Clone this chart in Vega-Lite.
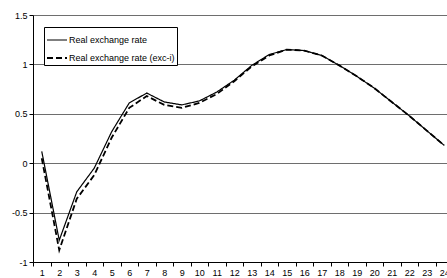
{
  "$schema": "https://vega.github.io/schema/vega-lite/v6.json",
  "autosize": "none",
  "width": 420,
  "height": 247,
  "padding": {"left": 33, "top": 15, "right": 0, "bottom": 16},
  "config": {
    "font": "Liberation Sans",
    "view": {"stroke": null},
    "axis": {"labelFont": "Liberation Sans", "labelFontSize": 9, "labelColor": "#000", "domainColor": "#000", "tickColor": "#000", "tickSize": 4, "titleFontSize": 9}
  },
  "data": {"values": [
    {"t":1,"s":"Real exchange rate","v":0.12},
    {"t":2,"s":"Real exchange rate","v":-0.78},
    {"t":3,"s":"Real exchange rate","v":-0.29},
    {"t":4,"s":"Real exchange rate","v":-0.05},
    {"t":5,"s":"Real exchange rate","v":0.32},
    {"t":6,"s":"Real exchange rate","v":0.61},
    {"t":7,"s":"Real exchange rate","v":0.71},
    {"t":8,"s":"Real exchange rate","v":0.62},
    {"t":9,"s":"Real exchange rate","v":0.59},
    {"t":10,"s":"Real exchange rate","v":0.63},
    {"t":11,"s":"Real exchange rate","v":0.72},
    {"t":12,"s":"Real exchange rate","v":0.84},
    {"t":13,"s":"Real exchange rate","v":0.99},
    {"t":14,"s":"Real exchange rate","v":1.10},
    {"t":15,"s":"Real exchange rate","v":1.15},
    {"t":16,"s":"Real exchange rate","v":1.14},
    {"t":17,"s":"Real exchange rate","v":1.09},
    {"t":18,"s":"Real exchange rate","v":0.99},
    {"t":19,"s":"Real exchange rate","v":0.88},
    {"t":20,"s":"Real exchange rate","v":0.76},
    {"t":21,"s":"Real exchange rate","v":0.62},
    {"t":22,"s":"Real exchange rate","v":0.48},
    {"t":23,"s":"Real exchange rate","v":0.33},
    {"t":24,"s":"Real exchange rate","v":0.18},
    {"t":1,"s":"Real exchange rate (exc-i)","v":0.05},
    {"t":2,"s":"Real exchange rate (exc-i)","v":-0.88},
    {"t":3,"s":"Real exchange rate (exc-i)","v":-0.36},
    {"t":4,"s":"Real exchange rate (exc-i)","v":-0.12},
    {"t":5,"s":"Real exchange rate (exc-i)","v":0.26},
    {"t":6,"s":"Real exchange rate (exc-i)","v":0.56},
    {"t":7,"s":"Real exchange rate (exc-i)","v":0.68},
    {"t":8,"s":"Real exchange rate (exc-i)","v":0.59},
    {"t":9,"s":"Real exchange rate (exc-i)","v":0.56},
    {"t":10,"s":"Real exchange rate (exc-i)","v":0.61},
    {"t":11,"s":"Real exchange rate (exc-i)","v":0.70},
    {"t":12,"s":"Real exchange rate (exc-i)","v":0.83},
    {"t":13,"s":"Real exchange rate (exc-i)","v":0.98},
    {"t":14,"s":"Real exchange rate (exc-i)","v":1.09},
    {"t":15,"s":"Real exchange rate (exc-i)","v":1.15},
    {"t":16,"s":"Real exchange rate (exc-i)","v":1.14},
    {"t":17,"s":"Real exchange rate (exc-i)","v":1.09},
    {"t":18,"s":"Real exchange rate (exc-i)","v":0.99},
    {"t":19,"s":"Real exchange rate (exc-i)","v":0.88},
    {"t":20,"s":"Real exchange rate (exc-i)","v":0.76},
    {"t":21,"s":"Real exchange rate (exc-i)","v":0.62},
    {"t":22,"s":"Real exchange rate (exc-i)","v":0.48},
    {"t":23,"s":"Real exchange rate (exc-i)","v":0.33},
    {"t":24,"s":"Real exchange rate (exc-i)","v":0.18}
  ]},
  "mark": {"type": "line", "color": "#000"},
  "encoding": {
    "x": {
      "field": "t", "type": "ordinal",
      "scale": {"type": "band", "paddingInner": 0, "paddingOuter": 0},
      "bandPosition": 0.5,
      "axis": {"title": null, "labelAngle": 0, "tickBand": "extent", "grid": false, "labelPadding": 2}
    },
    "y": {
      "field": "v", "type": "quantitative",
      "scale": {"domain": [-1, 1.5], "nice": false, "zero": false},
      "axis": {"title": null, "values": [-1, -0.5, 0, 0.5, 1, 1.5], "labelExpr": "'' + datum.value", "grid": true, "gridColor": "#6e6e6e", "gridOpacity": 1, "gridWidth": 1, "labelPadding": 2}
    },
    "strokeDash": {
      "field": "s", "type": "nominal",
      "scale": {"domain": ["Real exchange rate", "Real exchange rate (exc-i)"], "range": [[1, 0], [6, 3]]},
      "legend": {"title": null, "orient": "none", "legendX": 11, "legendY": 12, "symbolType": "stroke", "symbolStrokeColor": "#000", "symbolSize": 400, "labelFontSize": 9, "labelFont": "Liberation Sans", "labelColor": "#000", "strokeColor": "#000", "fillColor": "#fff", "padding": 2, "rowPadding": 2, "labelOffset": 1}
    },
    "strokeWidth": {
      "field": "s", "type": "nominal",
      "scale": {"domain": ["Real exchange rate", "Real exchange rate (exc-i)"], "range": [1.2, 1.8]},
      "legend": {"title": null, "orient": "none", "legendX": 11, "legendY": 12, "symbolType": "stroke", "symbolStrokeColor": "#000", "symbolSize": 400, "labelFontSize": 9, "labelFont": "Liberation Sans", "labelColor": "#000", "strokeColor": "#000", "fillColor": "#fff", "padding": 2, "rowPadding": 2, "labelOffset": 1}
    }
  }
}
